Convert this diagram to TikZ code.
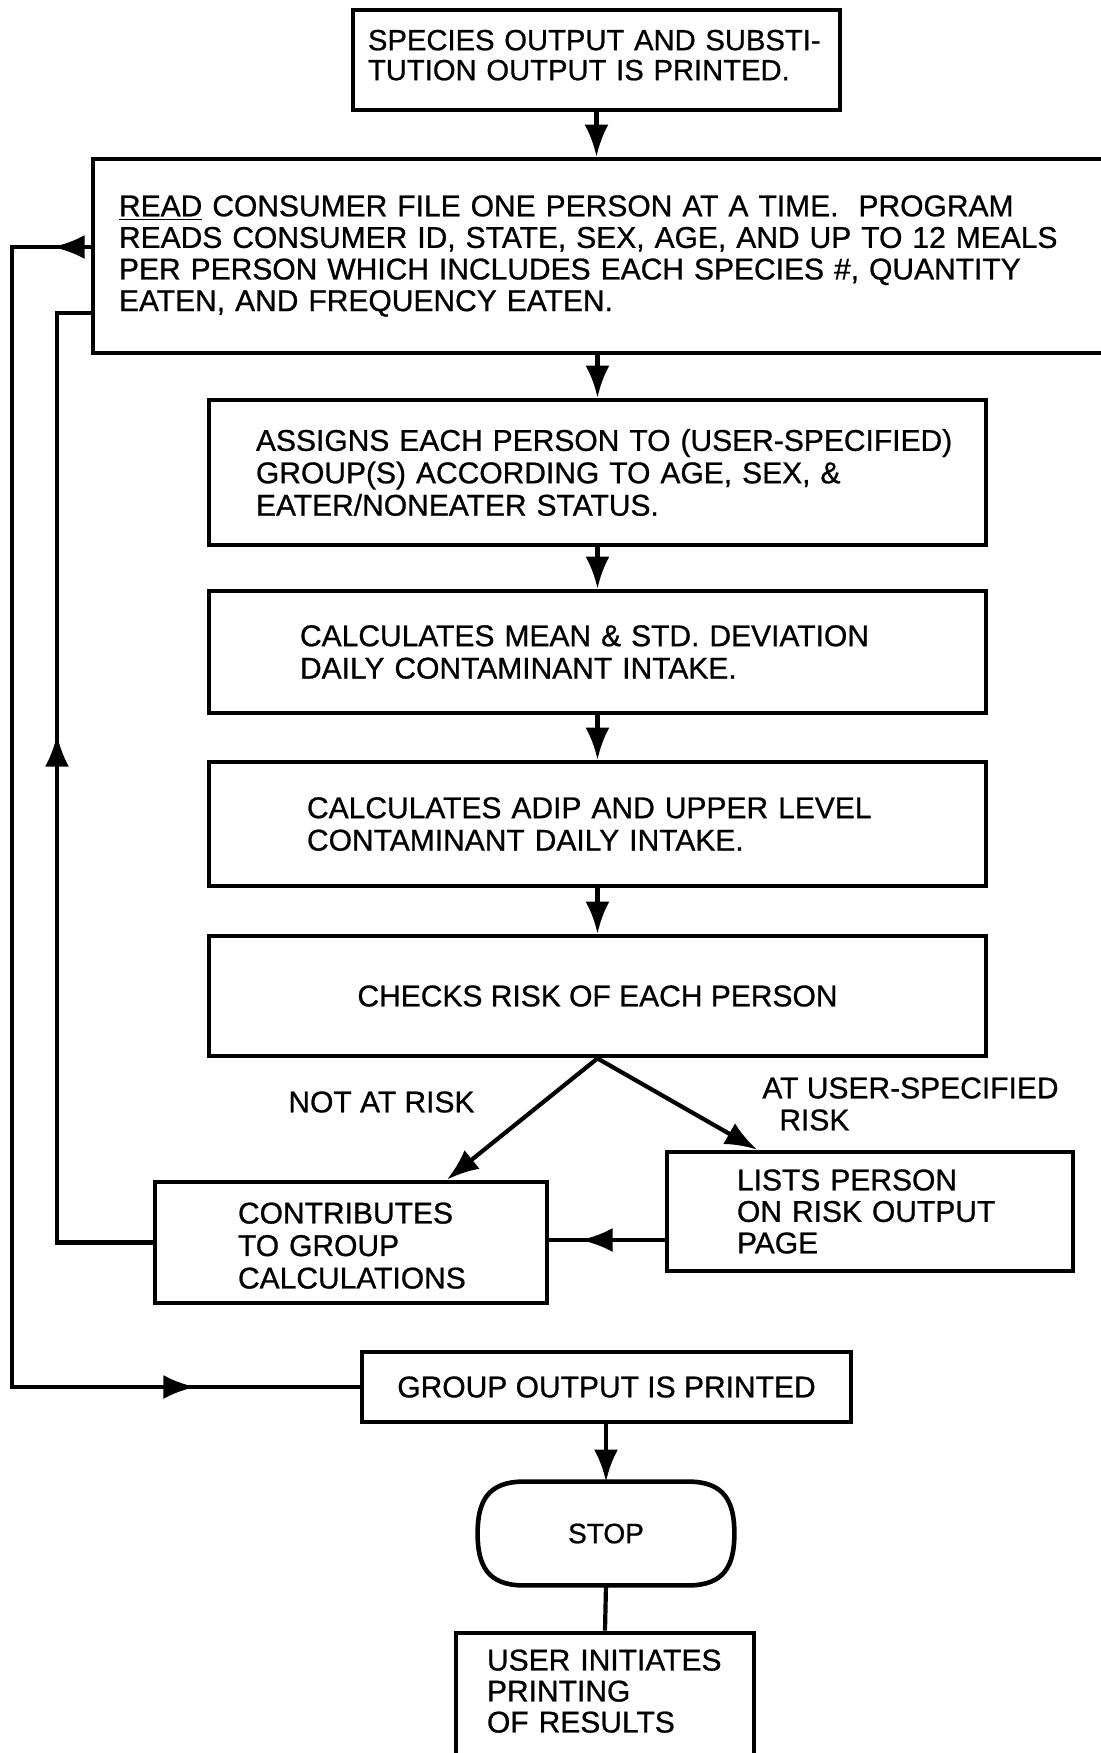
\documentclass[tikz,border=0pt]{standalone}
\usepackage{fontspec}
\setmainfont{Liberation Sans}[FakeBold=0.8]
\usetikzlibrary{arrows.meta,decorations.markings}

\newcommand\headtip{Latex[length=16pt,width=12pt]}

\begin{document}
\begin{tikzpicture}[x=0.5pt,y=-0.5pt,
  box/.style={draw, line width=2.4pt, rectangle, inner sep=0pt, align=left,
              font=\fontsize{15pt}{16.5pt}\selectfont},
  lbl/.style={inner sep=0pt, align=left, font=\fontsize{15pt}{16pt}\selectfont},
  conn/.style={line width=2.1pt, line join=miter},
  tip/.style={-{\headtip}},
  midtip/.style={postaction={decorate},
    decoration={markings, mark=at position #1 with {\arrow{\headtip}}}},
]
\useasboundingbox (0,0) rectangle (1101,1753);

% rails of the two feedback loops
\coordinate (railA) at (12,0);
\coordinate (railB) at (57,0);
\coordinate (exitY) at (0,247);
\coordinate (retY)  at (0,313);
\coordinate (sideY) at (0,1240);

% process boxes
\node[box, minimum width=243.5pt, minimum height=50pt, text width=228.5pt,
      text depth=20pt, font=\fontsize{14.6pt}{15pt}\selectfont]
  (species) at (596.5,60)
  {\mbox{SPECIES OUTPUT AND SUBSTI-}\\\mbox{TUTION OUTPUT IS PRINTED.}};

\node[box, minimum width=509.5pt, minimum height=97pt, text width=483.5pt,
      font=\fontsize{15pt}{15.8pt}\selectfont]
  (read) at (602.5,256)
  {\mbox{\underline{READ} CONSUMER FILE ONE PERSON AT A TIME.\ \ PROGRAM}\\
   \mbox{READS CONSUMER ID, STATE, SEX, AGE, AND UP TO 12 MEALS}\\
   \mbox{PER PERSON WHICH INCLUDES EACH SPECIES \#, QUANTITY}\\
   \mbox{EATEN, AND FREQUENCY EATEN.}};

\node[box, minimum width=388.5pt, minimum height=72.5pt, text width=341.5pt,
      font=\fontsize{15pt}{16.2pt}\selectfont]
  (assign) at (597.5,472.5)
  {\mbox{ASSIGNS EACH PERSON TO (USER-SPECIFIED)}\\
   \mbox{GROUP(S) ACCORDING TO AGE, SEX, \&}\\
   \mbox{EATER/NONEATER STATUS.}};

\node[box, minimum width=388.5pt, minimum height=61pt, text width=297.5pt,
      font=\fontsize{15pt}{16.2pt}\selectfont]
  (mean) at (597.5,652)
  {\mbox{CALCULATES MEAN \& STD. DEVIATION}\\
   \mbox{DAILY CONTAMINANT INTAKE.}};

\node[box, minimum width=388.5pt, minimum height=62pt, text width=290.5pt,
      font=\fontsize{15pt}{16.2pt}\selectfont]
  (adip) at (597.5,824)
  {\mbox{CALCULATES ADIP AND UPPER LEVEL}\\
   \mbox{CONTAMINANT DAILY INTAKE.}};

\node[box, minimum width=388.5pt, minimum height=60pt, align=center]
  (checks) at (597.5,996) {CHECKS RISK OF EACH PERSON};

\node[box, minimum width=196pt, minimum height=60.5pt, text width=113pt,
      text depth=29.5pt, font=\fontsize{15pt}{16.25pt}\selectfont]
  (contrib) at (351,1242.5)
  {\mbox{CONTRIBUTES}\\\mbox{TO GROUP}\\\mbox{CALCULATIONS}};

\node[box, minimum width=203pt, minimum height=59.5pt, text width=133pt,
      font=\fontsize{15pt}{15.75pt}\selectfont]
  (lists) at (870,1211.5)
  {\mbox{LISTS PERSON}\\\mbox{ON RISK OUTPUT}\\\mbox{PAGE}};

\node[box, minimum width=244.5pt, minimum height=35pt, align=center]
  (group) at (606.5,1387) {GROUP OUTPUT IS PRINTED};

% terminal: flat top and bottom, bulging sides
\node[inner sep=0pt, minimum width=128pt, minimum height=51.5pt,
      font=\fontsize{14pt}{16pt}\selectfont]
  (stop) at (606,1533.5) {STOP};
\draw[line width=2.3pt]
  ([xshift=23pt]stop.north west) -- ([xshift=-23pt]stop.north east)
  .. controls ([xshift=-5pt]stop.north east) and ([yshift=-10pt]stop.north east) .. (stop.east)
  .. controls ([yshift=10pt]stop.south east) and ([xshift=-5pt]stop.south east) .. ([xshift=-23pt]stop.south east)
  -- ([xshift=23pt]stop.south west)
  .. controls ([xshift=5pt]stop.south west) and ([yshift=10pt]stop.south west) .. (stop.west)
  .. controls ([yshift=-10pt]stop.north west) and ([xshift=5pt]stop.north west) .. cycle;

\node[box, minimum width=149pt, minimum height=78.5pt, text width=118pt,
      text depth=51.5pt, font=\fontsize{15pt}{15.5pt}\selectfont]
  (user) at (605,1711.5)
  {\mbox{USER INITIATES}\\\mbox{PRINTING}\\\mbox{OF RESULTS}};

% branch labels
\node[lbl, anchor=west] (notrisk) at (288,1102) {NOT AT RISK};
\node[lbl, anchor=west] (atrisk) at (762,1104)
  {AT USER-SPECIFIED\\\hspace*{8.5pt}RISK};

% main flow
\draw[conn, tip] (species.south) -- (species.south |- read.north);
\draw[conn, tip] (assign.north |- read.south) -- (assign.north);
\draw[conn, tip] (assign.south) -- (mean.north);
\draw[conn, tip] (mean.south) -- (adip.north);
\draw[conn, tip] (adip.south) -- (checks.north);

% risk branches
\draw[conn, tip] (checks.south) -- ([xshift=48pt]contrib.north);
\draw[conn, tip] (checks.south) -- ([xshift=-56.5pt]lists.north);
\draw[conn, midtip=42pt] (lists.west |- sideY) -- (contrib.east |- sideY);

% loop back to the next person
\draw[conn, midtip=301.75pt]
  (contrib.west) -- (railB |- contrib.west) -- (railB |- retY) -- (read.west |- retY);

% end of file: group output
\draw[conn, postaction={decorate},
      decoration={markings,
        mark=at position 19pt with {\arrow{\headtip}},
        mark=at position 701pt with {\arrow{\headtip}}}]
  (read.west |- exitY) -- (railA |- exitY) -- (railA |- group.west) -- (group.west);

\draw[conn, tip] (stop.north |- group.south) -- (stop.north);
\draw[conn] (stop.south) -- (user.north);
\end{tikzpicture}
\end{document}
